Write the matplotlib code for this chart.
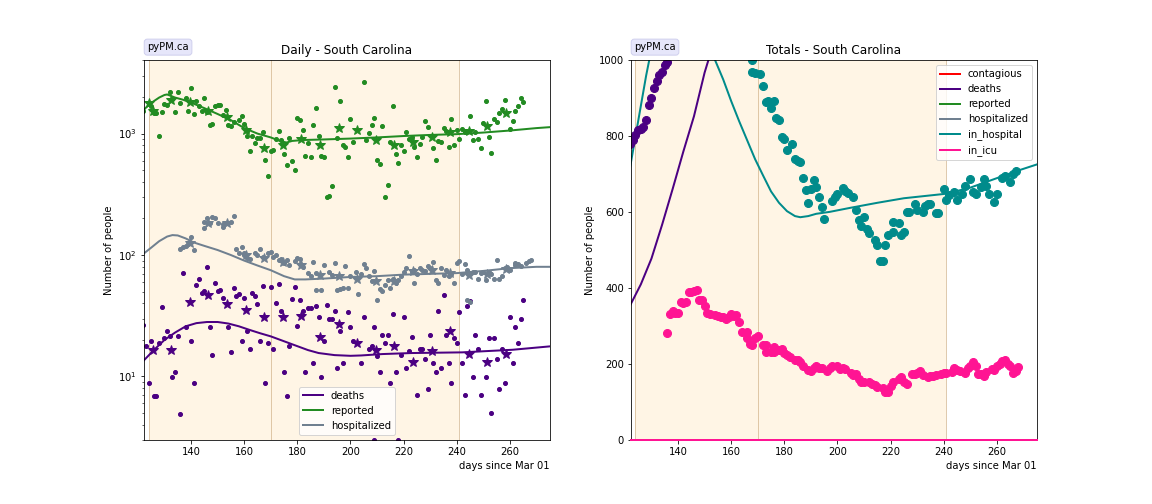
import matplotlib.pyplot as plt

# ---- period boundaries (days since Mar 01)
band_edges = [124, 170, 241]

# ---- Daily: reported cases
rep_days = [122, 124, 125, 126, 127, 128, 129, 130, 131, 132,
            133, 134, 135, 136, 138, 139, 140, 141, 142, 143,
            144, 145, 146, 147, 148, 149, 150, 151, 152, 153,
            154, 155, 156, 158, 159, 160, 161, 161, 162, 163,
            164, 165, 166, 167, 168, 169, 170, 171, 172, 173,
            174, 175, 176, 177, 178, 179, 180, 181, 182, 183,
            184, 185, 186, 187, 188, 189, 190, 191, 192, 193,
            194, 195, 196, 197, 198, 199,
            200, 201, 205, 206, 207, 208, 209, 210, 211, 212,
            213, 214, 215, 216, 217, 218, 219, 220, 221, 222,
            223, 224, 225, 226, 227, 228, 229, 231, 232, 233,
            234, 235, 236, 237, 238, 239, 240, 241, 242, 243,
            245, 246, 247, 248, 249, 250, 251, 252, 253, 254,
            255, 256, 257, 258, 260, 261, 262, 263, 264, 265]
rep_vals = [1540, 1750, 1690, 1470, 1490, 960, 1520, 1750, 1720, 2220,
            1920, 1500, 2200, 1800, 1960, 1540, 2370, 1450, 1840, 1690,
            1540, 1960, 1520, 1180, 1200, 1690, 1730, 1720, 1430, 1560,
            1180, 1150, 1240, 1290, 1390, 1210, 1045, 960, 720, 956,
            843, 921, 921, 1026, 608, 450, 716, 735, 898, 1052,
            887, 681, 553, 914, 600, 503, 1343, 1294, 1072, 656,
            843, 640, 1183, 1622, 956, 656, 640, 301, 304, 372,
            2427, 921, 1849, 807, 773, 640,
            1318, 859, 2649, 887, 1012, 1183, 1343, 608, 564, 1153,
            302, 379, 859, 1683, 681, 574, 807, 724, 1038, 903,
            944, 773, 643, 828, 933, 1268, 1132, 762, 608, 865,
            853, 1112, 1057, 776, 1318, 807, 1072, 903, 1091, 1026,
            1394, 887, 1026, 903, 762, 1214, 1849, 938, 693, 1318,
            1245, 1476, 1592, 1888, 1091, 1268, 1531, 1683, 1958, 1815]

rep_wk_days = [124, 125.5, 132.5, 139.5, 146.5, 153.5, 160.5, 167.5, 174.5, 181.5, 188.5,
               195.5, 202.5, 209.5, 216.5, 223.5, 230.5, 237.5, 244.5, 251.5, 258.5]
rep_wk_vals = [1771, 1542, 1888, 1804, 1523, 1377, 1072, 762, 811, 903, 811,
               1112, 1077, 891, 811, 859, 933, 1026, 1057, 1161, 1476]

rep_mod_days = [122, 124, 126, 128, 130, 131, 132, 134, 137, 140, 145, 150, 155, 160,
                165, 170, 174, 176, 178, 182, 190, 200, 210, 220, 230, 240, 250, 260, 270, 275]
rep_mod_vals = [1550, 1720, 1850, 1980, 2080, 2100, 2060, 1980, 1900, 1800, 1620, 1450, 1290, 1110,
                1000, 930, 860, 845, 870, 885, 895, 910, 930, 955, 975, 990, 1020, 1060, 1110, 1130]

# ---- Daily: hospitalized
hosp_days = [136, 137, 138, 139, 140, 141, 145, 145, 146, 147, 148, 149, 150, 152, 152,
             154, 155, 156, 157, 159, 158, 160, 160, 161, 162, 164, 165, 166, 167, 169,
             170, 171, 172, 173, 174, 175, 176, 177, 179, 180, 181, 181, 182, 184, 185,
             186, 187, 187, 189, 190, 192, 193, 194, 195, 196, 197,
             198, 199, 200, 202, 203, 204, 205, 206, 207, 208, 209, 210, 211, 212, 213,
             214, 215, 216, 217, 218, 219, 220, 221, 222, 223, 224, 224, 225, 226, 227,
             228, 229, 230, 231, 232, 233, 234, 235, 236, 237, 238, 239, 240, 241, 242,
             243, 244, 245, 244, 246, 247, 248, 249, 250, 251, 252, 253, 254, 255, 256,
             257, 258, 259, 260, 262, 262, 263, 264, 266, 267, 268]
hosp_vals = [113, 116, 119, 123, 141, 109, 166, 188, 200, 182, 204, 200, 184, 180, 171,
             182, 188, 209, 113, 117, 103, 100, 103, 94, 92, 103, 100, 113, 97, 103,
             106, 97, 100, 91, 92, 86, 91, 83, 90, 94, 92, 84, 80, 71, 67,
             88, 52, 71, 52, 83, 72, 69, 86, 52, 53, 54,
             81, 54, 67, 73, 48, 70, 84, 78, 67, 61, 74, 43, 53, 51, 57,
             62, 54, 64, 59, 62, 67, 73, 78, 98, 73, 76, 59, 70, 78, 76,
             74, 81, 78, 88, 62, 59, 78, 69, 75, 67, 70, 59, 86, 90, 70,
             84, 43, 41, 75, 72, 73, 63, 71, 73, 62, 72, 70, 63, 91, 64,
             67, 78, 80, 75, 86, 83, 84, 81, 86, 90, 91]

hosp_wk_days = [139.5, 146.5, 153.5, 160.5, 167.5, 174.5, 181.5, 188.5, 195.5,
                202.5, 209.5, 216.5, 223.5, 230.5, 237.5, 244.5, 251.5, 258.5]
hosp_wk_vals = [125, 184, 182, 100, 94, 88, 83, 69, 67,
                64, 61, 61, 74, 75, 71, 69, 70, 77]

hosp_mod_days = [122, 125, 128, 131, 133, 135, 138, 141, 145, 150, 155, 160, 165, 170,
                 175, 179, 183, 190, 200, 210, 220, 230, 240, 250, 260, 270, 275]
hosp_mod_vals = [102, 115, 130, 142, 146, 145, 137, 127, 119, 110, 100, 90, 82, 75,
                 67, 63, 63, 64, 66, 67, 69, 70, 71, 74, 78, 80, 80]

# ---- Daily: deaths
death_days = [122, 123, 124, 125, 126, 127, 128, 129, 130, 131, 132, 133, 134, 135, 136,
              137, 138, 140, 141, 142, 143, 144, 145, 146, 147, 148, 149, 150, 151, 152,
              154, 155, 156, 157, 158, 159, 160, 161, 162, 163, 164, 165, 166, 167, 168,
              169, 170, 171, 172, 173, 174, 175, 176, 177, 178, 179, 180, 181, 182, 183,
              184, 185, 186, 187, 188, 189, 190, 191, 192, 193, 194, 195, 196, 197,
              199, 200, 201, 204, 205, 207, 208, 209, 210, 211, 212, 213, 214, 215, 216,
              217, 219, 220, 221, 222, 223, 225, 226, 227, 228, 229, 230, 231, 232, 233,
              234, 235, 236, 237, 238, 239, 240, 241, 242, 243, 244, 245, 246, 247, 248,
              249, 251, 252, 253, 254, 255, 256, 257, 258, 260, 261, 262, 263, 264, 265,
              209, 218]
death_vals = [26.7, 17.9, 8.9, 19.5, 6.9, 6.9, 18.7, 37.2, 20.8, 23.5, 21.7, 9.9, 10.9, 21.4, 4.9,
              70.8, 25.5, 19.5, 8.9, 56.7, 63.2, 48.5, 50.1, 79.3, 25.5, 14.9, 58.6, 50.1, 51.7, 43.9,
              25.5, 15.8, 53.3, 45.6, 48.0, 19.5, 44.2, 23.5, 16.9, 49.1, 45.6, 39.6, 19.5, 55.1, 8.9,
              18.9, 54.3, 16.9, 40.6, 57.8, 34.3, 10.9, 6.9, 17.9, 43.4, 54.3, 26.2, 42.8, 34.3, 10.9,
              36.6, 36.6, 12.9, 38.2, 30.8, 9.9, 19.5, 38.9, 29.7, 29.7, 34.3, 11.8, 23.8, 12.9,
              33.9, 25.5, 19.5, 12.9, 30.8, 16.9, 17.7, 25.5, 14.7, 10.9, 22.1, 18.9, 22.1, 8.9, 32.6,
              10.9, 14.9, 30.8, 11.8, 16.2, 21.0, 7.0, 16.9, 16.9, 14.0, 7.9, 22.1, 12.9, 10.9, 34.8,
              11.8, 47.0, 22.1, 12.8, 8.9, 20.8, 18.9, 33.9, 12.9, 7.0, 38.2, 42.0, 9.9, 22.1, 16.9,
              7.0, 9.9, 20.8, 5.0, 20.8, 14.0, 7.9, 16.9, 8.9, 30.8, 12.9, 25.5, 18.9, 29.7, 42.8,
              3.0, 3.0]

death_wk_days = [125.5, 132.5, 139.5, 146.5, 153.5, 160.5, 167.5, 174.5, 181.5, 188.5,
                 195.5, 202.5, 209.5, 216.5, 223.5, 230.5, 237.5, 244.5, 251.5, 258.5]
death_wk_vals = [16.4, 16.4, 40.7, 46.5, 39.5, 35.4, 30.7, 30.7, 31.6, 21.0,
                 27.2, 18.7, 16.6, 17.7, 13.1, 16.3, 23.8, 15.4, 13.1, 15.2]

death_mod_days = [122, 126, 130, 134, 138, 142, 146, 150, 154, 158, 162, 166, 170, 175,
                  179, 184, 188, 194, 200, 204, 212, 223, 242, 261, 275]
death_mod_vals = [13.4, 16.5, 20.0, 23.0, 25.9, 27.5, 28.1, 28.1, 27.3, 25.9, 24.2, 22.7, 21.4, 19.5,
                  18.1, 16.5, 15.6, 15.0, 14.8, 14.9, 15.3, 15.6, 15.8, 16.6, 17.7]

# ---- Totals
tot_death_days = [122, 123, 124, 125, 126, 127, 128, 129, 130, 131, 132, 133, 134, 135, 136]
tot_death_vals = [781, 790, 803, 816, 820, 826, 842, 882, 902, 928, 947, 961, 969, 989, 996]

inhosp_days = [168, 168, 169, 171, 172, 173, 174, 175, 176, 177, 178, 179, 180, 181, 183,
               184, 185, 186, 187, 188, 189, 190, 191, 192, 193, 194, 195,
               198, 199, 200, 202, 203, 204, 206, 207, 208, 209, 210, 211, 212, 214,
               215, 216, 217, 218, 219, 221, 221, 223, 224, 225, 226, 227, 229, 230,
               232, 233, 234, 235, 237, 238, 240, 241, 242, 244, 245, 247, 248, 250,
               251, 252, 254, 255, 256, 257, 259, 260, 262, 263, 265, 266, 267]
inhosp_vals = [1000, 969, 967, 965, 934, 890, 893, 875, 893, 849, 842, 798, 794, 765, 779,
               741, 735, 733, 691, 660, 625, 662, 684, 667, 639, 614, 581,
               631, 640, 647, 665, 656, 651, 640, 607, 579, 563, 588, 557, 545, 526,
               513, 471, 471, 513, 539, 548, 574, 572, 539, 548, 601, 601, 621, 607,
               601, 616, 621, 623, 598, 598, 662, 633, 645, 653, 633, 649, 668, 688,
               653, 649, 667, 688, 668, 649, 627, 649, 691, 695, 680, 702, 710]

icu_days = [136, 137, 138, 139, 140, 141, 142, 143, 144, 145, 146, 147, 148, 149, 150,
            151, 152, 154, 155, 156, 157, 158, 159, 160, 161, 162, 163, 164, 166, 166,
            167, 168, 169, 170, 172, 173, 173, 175, 176, 176, 178, 179, 180, 181, 182,
            184, 185, 186, 187, 189, 190, 191, 192, 193, 194, 196, 197, 198, 200, 201,
            202, 203, 205, 206, 207, 208, 209, 210, 212, 213, 214, 215, 217, 218, 219,
            220, 221, 223, 224, 225, 226, 228, 229, 230, 231, 232, 234, 235, 236, 237,
            239, 240, 241, 243, 244, 245, 246, 248, 249, 250, 251, 252, 253, 254, 255,
            256, 258, 259, 260, 261, 262, 263, 264, 265, 266, 267, 268]
icu_vals = [281, 333, 340, 335, 335, 364, 361, 364, 389, 390, 393, 396, 368, 368, 353,
            335, 333, 329, 326, 325, 323, 318, 323, 332, 326, 329, 310, 285, 285, 268,
            254, 250, 270, 274, 250, 250, 232, 232, 232, 244, 237, 241, 228, 224, 219,
            210, 210, 206, 195, 184, 182, 189, 195, 191, 189, 182, 189, 195, 195, 186,
            189, 186, 176, 171, 174, 162, 154, 154, 152, 147, 145, 140, 136, 127, 127,
            142, 154, 162, 165, 154, 147, 174, 174, 176, 182, 171, 167, 168, 168, 171,
            174, 176, 176, 180, 189, 184, 182, 177, 191, 195, 206, 195, 174, 174, 168,
            180, 186, 184, 195, 200, 209, 212, 200, 195, 176, 182, 193]

inhosp_mod_days = [122, 124, 126, 128, 130, 133, 136, 140, 144, 148, 151, 154, 157, 160,
                   163, 166, 169, 172, 175, 178, 181, 184, 186, 189, 192, 197, 205, 215,
                   225, 241, 250, 260, 268, 275]
inhosp_mod_vals = [720, 800, 880, 960, 1030, 1100, 1150, 1180, 1170, 1120, 1060, 1000, 950, 893,
                   840, 790, 740, 697, 655, 625, 603, 590, 587, 590, 596, 601, 612, 625,
                   637, 649, 665, 690, 710, 726]

tot_death_mod_days = [122, 126, 130, 134, 138, 142, 146, 150, 154, 160]
tot_death_mod_vals = [355, 410, 478, 567, 662, 760, 853, 968, 1060, 1200]

# cumulative series that stay above the plotted range
cont_days = [122, 275]
cont_vals = [15000, 9000]
tot_rep_days = [122, 275]
tot_rep_vals = [60000, 160000]
tot_hosp_days = [122, 275]
tot_hosp_vals = [4000, 11000]
icu_mod_days = [122.3, 275]
icu_mod_vals = [0, 0]

fig, (ax1, ax2) = plt.subplots(1, 2, figsize=(16, 7), dpi=72)
fig.subplots_adjust(left=0.125, right=0.9, bottom=0.127, top=0.88, wspace=0.2)

for ax in (ax1, ax2):
    for a, b in zip(band_edges[:-1], band_edges[1:]):
        ax.axvspan(a, b, color='orange', alpha=0.1, lw=0)
    for e in band_edges:
        ax.axvline(e, color='tan', lw=1, alpha=0.7)
    ax.text(0.008, 1.022, 'pyPM.ca', transform=ax.transAxes, fontsize=10, va='bottom',
            bbox=dict(boxstyle='round,pad=0.3', facecolor='lavender', edgecolor='#d0d0ee'))

# Daily panel
ax1.plot(death_days, death_vals, 'o', color='indigo', ms=4)
ax1.plot(death_wk_days, death_wk_vals, '*', color='indigo', ms=11)
ax1.plot(death_mod_days, death_mod_vals, '-', color='indigo', lw=2, label='deaths')

ax1.plot(rep_days, rep_vals, 'o', color='forestgreen', ms=4)
ax1.plot(rep_wk_days, rep_wk_vals, '*', color='forestgreen', ms=11)
ax1.plot(rep_mod_days, rep_mod_vals, '-', color='forestgreen', lw=2, label='reported')

ax1.plot(hosp_days, hosp_vals, 'o', color='slategrey', ms=4)
ax1.plot(hosp_wk_days, hosp_wk_vals, '*', color='slategrey', ms=11)
ax1.plot(hosp_mod_days, hosp_mod_vals, '-', color='slategrey', lw=2, label='hospitalized')

ax1.set_yscale('log')
ax1.set_ylim(3, 4000)
ax1.set_xlim(122.3, 275)
ax1.set_title('Daily - South Carolina')
ax1.set_ylabel('Number of people')
ax1.set_xlabel('days since Mar 01', loc='right')
ax1.legend(loc='lower center')

# Totals panel
ax2.plot(cont_days, cont_vals, '-', color='red', lw=2, label='contagious')
ax2.plot(tot_death_mod_days, tot_death_mod_vals, '-', color='indigo', lw=2, label='deaths')
ax2.plot(tot_rep_days, tot_rep_vals, '-', color='forestgreen', lw=2, label='reported')
ax2.plot(tot_hosp_days, tot_hosp_vals, '-', color='slategrey', lw=2, label='hospitalized')
ax2.plot(inhosp_mod_days, inhosp_mod_vals, '-', color='darkcyan', lw=2, label='in_hospital')
ax2.plot(icu_mod_days, icu_mod_vals, '-', color='deeppink', lw=2, label='in_icu',
         clip_on=False, zorder=5)

ax2.plot(tot_death_days, tot_death_vals, 'o', color='indigo', ms=8)
ax2.plot(inhosp_days, inhosp_vals, 'o', color='darkcyan', ms=8)
ax2.plot(icu_days, icu_vals, 'o', color='deeppink', ms=8)

ax2.set_ylim(0, 1000)
ax2.set_xlim(122.3, 275)
ax2.set_title('Totals - South Carolina')
ax2.set_ylabel('Number of people')
ax2.set_xlabel('days since Mar 01', loc='right')
ax2.legend(loc='upper right')

fig.savefig('out.png', dpi=72)
